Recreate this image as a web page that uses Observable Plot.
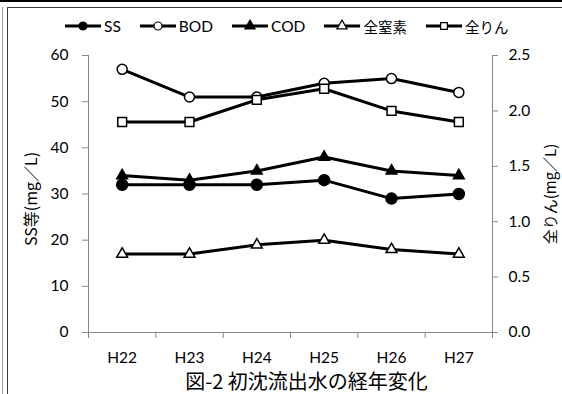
<!DOCTYPE html>
<html>
<head>
<meta charset="utf-8">
<script src="https://cdn.jsdelivr.net/npm/d3@7"></script>
<script src="https://cdn.jsdelivr.net/npm/@observablehq/plot@0.6"></script>
<style>
  html, body { margin: 0; padding: 0; background: #fff; }
  #frame { position: relative; width: 562px; height: 394px; overflow: hidden; background: #fff;
           font-family: Lato, "Noto Sans CJK JP", sans-serif; color: #000; }
  .rule-top { position: absolute; left: 0; top: 0; width: 562px; height: 2px; background: #000; }
  .rule-outer { position: absolute; left: 2px; top: 7px; width: 1px; bottom: 0; background: #a0a0a0; }
  .box { position: absolute; left: 7px; top: 7px; right: -20px; bottom: -20px;
         border-top: 1.5px solid #3a3a3a; border-left: 1.5px solid #3a3a3a; }
  #legend { position: absolute; left: 65px; top: 16px; height: 20px; display: flex; align-items: center;
            gap: 19px; font-size: 15.5px; white-space: nowrap; }
  #legend .item { display: flex; align-items: center; gap: 3px; }
  #legend .cjk { font-family: "Noto Sans CJK JP", sans-serif; font-size: 14.5px; }
  #legend svg { display: block; }
  #chart { position: absolute; left: 0; top: 0; }
  #caption { position: absolute; left: 0; width: 613px; top: 366px; text-align: center; font-size: 20px;
             font-family: "Noto Sans CJK JP", sans-serif; }
</style>
</head>
<body>
<div id="frame">
  <div class="rule-top"></div>
  <div class="rule-outer"></div>
  <div class="box"></div>
  <div id="chart"></div>
  <div id="legend"></div>
  <div id="caption">図-2 初沈流出水の経年変化</div>
</div>
<script>
// Fiscal years (Heisei era)
const years = ["H22", "H23", "H24", "H25", "H26", "H27"];

// Primary-effluent concentrations, mg/L (left axis)
const ss  = [32, 32, 32, 33, 29, 30];
const bod = [57, 51, 51, 54, 55, 52];
const cod = [34, 33, 35, 38, 35, 34];
const tn  = [17, 17, 19, 20, 18, 17];

// Total phosphorus, mg/L (right axis)
const tp  = [1.9, 1.9, 2.1, 2.2, 2.0, 1.9];

// Axis ticks
const leftTicks  = [0, 10, 20, 30, 40, 50, 60];
const rightTicks = [0, 0.5, 1.0, 1.5, 2.0, 2.5];

const leftMax = 60, rightMax = 2.5;
const ratio = leftMax / rightMax; // right-axis values are drawn on the left scale

const series = [
  {name: "SS",    values: ss,  right: false, symbol: "circle",   fill: "#000", r: 5.5},
  {name: "BOD",   values: bod, right: false, symbol: "circle",   fill: "#fff", r: 5},
  {name: "COD",   values: cod, right: false, symbol: "triangle", fill: "#000", r: 4},
  {name: "全窒素", values: tn,  right: false, symbol: "triangle", fill: "#fff", r: 4},
  {name: "全りん", values: tp,  right: true,  symbol: "square",   fill: "#fff", r: 5}
];

const rows = series.map(s => s.values.map((v, i) => ({
  name: s.name, i, year: years[i], value: v, y: s.right ? v * ratio : v
})));

const gray = "#868686";

const marks = [
  // axis lines
  Plot.ruleY([0], {stroke: gray, strokeWidth: 1}),
  Plot.ruleX([-0.5], {stroke: gray, strokeWidth: 1}),
  Plot.ruleX([years.length - 0.5], {stroke: gray, strokeWidth: 1}),
  // category boundary ticks
  Plot.axisX(d3.range(years.length + 1).map(i => i - 0.5), {
    anchor: "bottom", tickSize: 6, stroke: gray, tickFormat: () => "", label: null
  }),
  // category labels
  Plot.axisX(d3.range(years.length), {
    anchor: "bottom", tickSize: 0, tickPadding: 19, tickFormat: i => years[i], fill: "#000", label: null
  }),
  Plot.axisY(leftTicks, {
    anchor: "left", tickSize: 6, tickPadding: 14, stroke: gray, fill: "#000", label: null
  }),
  Plot.axisY(rightTicks.map(v => v * ratio), {
    anchor: "right", tickSize: 5, tickPadding: 11, stroke: gray, fill: "#000",
    tickFormat: v => (v / ratio).toFixed(1), label: null
  }),
  // axis titles
  Plot.text(["SS等(mg／L)"], {
    text: d => d, frameAnchor: "left", textAnchor: "middle", rotate: -90, dx: -57, dy: 5,
    fontSize: 16, fontFamily: "'Noto Sans CJK JP', sans-serif", fill: "#000"
  }),
  Plot.text(["全りん(mg／L)"], {
    text: d => d, frameAnchor: "right", textAnchor: "middle", rotate: -90, dx: 59, dy: 0,
    fontSize: 15, fontFamily: "'Noto Sans CJK JP', sans-serif", fill: "#000"
  })
];

series.forEach((s, k) => {
  marks.push(Plot.line(rows[k], {x: "i", y: "y", stroke: "#000", strokeWidth: 3}));
  marks.push(Plot.dot(rows[k], {
    x: "i", y: "y", symbol: () => s.symbol, r: s.r,
    fill: s.fill, stroke: "#000", strokeWidth: 1.5
  }));
});

const chart = Plot.plot({
  width: 562,
  height: 394,
  marginTop: 55,
  marginBottom: 62,
  marginLeft: 88,
  marginRight: 70,
  style: {fontFamily: "Lato, 'Noto Sans CJK JP', sans-serif", fontSize: "15.5px", background: "transparent", color: "#000", overflow: "visible"},
  x: {type: "linear", domain: [-0.5, years.length - 0.5], axis: null},
  y: {domain: [0, leftMax], axis: null},
  symbol: {type: "identity"},
  marks
});
document.getElementById("chart").appendChild(chart);

// Legend: line-and-marker swatches followed by the series names
const legend = d3.select("#legend");
const symbolPath = {
  circle: d3.symbolCircle, triangle: d3.symbolTriangle, square: d3.symbolSquare
};
series.forEach(s => {
  const item = legend.append("div").attr("class", "item");
  const sw = item.append("svg").attr("width", 36).attr("height", 14);
  sw.append("line").attr("x1", 0).attr("x2", 36).attr("y1", 7).attr("y2", 7)
    .attr("stroke", "#000").attr("stroke-width", 3);
  const size = s.symbol === "circle" ? 50 : 45;
  sw.append("path").attr("d", d3.symbol(symbolPath[s.symbol], size)())
    .attr("transform", "translate(18,7)")
    .attr("fill", s.fill).attr("stroke", "#000").attr("stroke-width", 1.2);
  item.append("span").attr("class", /^[A-Z]+$/.test(s.name) ? null : "cjk").text(s.name);
});
</script>
</body>
</html>
